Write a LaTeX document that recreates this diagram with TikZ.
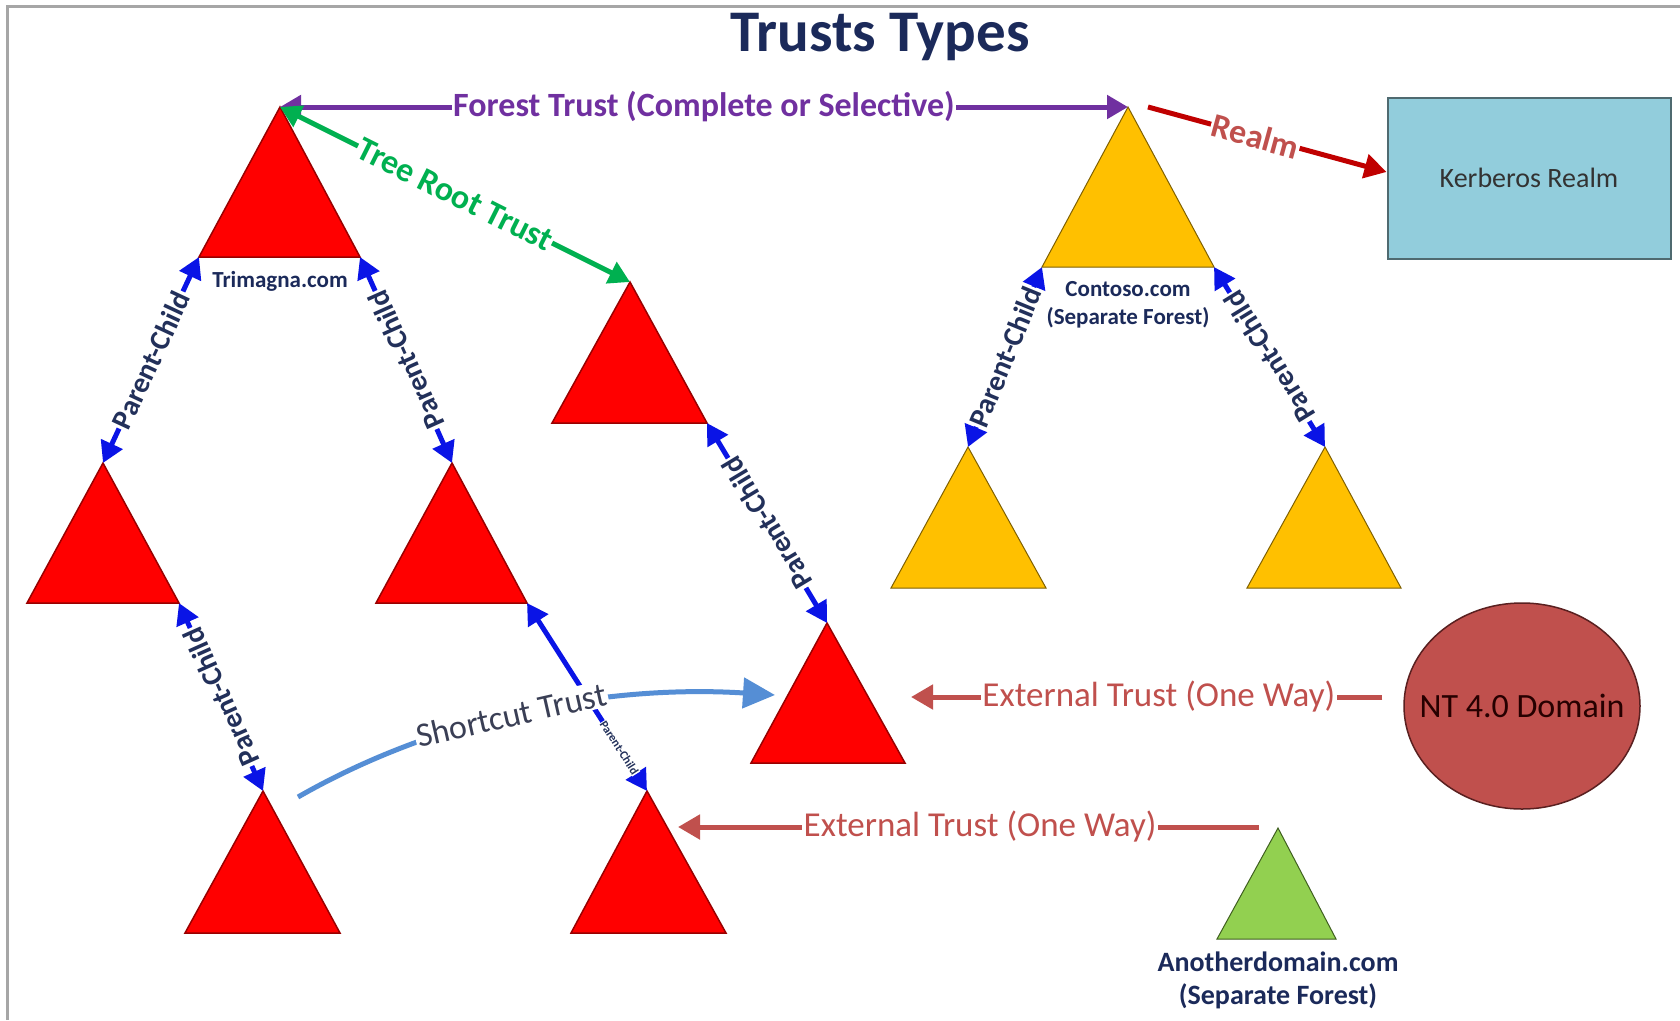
\documentclass[tikz,border=0pt]{standalone}
\usepackage{fontspec}
\setmainfont{Carlito}
\usetikzlibrary{arrows.meta,shapes.geometric,calc}
\definecolor{navy}{HTML}{1B2A5A}
\definecolor{labnavy}{HTML}{22305A}
\definecolor{fpurple}{HTML}{7030A0}
\definecolor{tgreen}{HTML}{00B050}
\definecolor{rdark}{HTML}{C00000}
\definecolor{rlabel}{HTML}{C0504D}
\definecolor{pblue}{HTML}{0A14E6}
\definecolor{tred}{HTML}{FF0000}
\definecolor{tredb}{HTML}{990000}
\definecolor{tyel}{HTML}{FFC000}
\definecolor{tyelb}{HTML}{7F6000}
\definecolor{tgrn}{HTML}{92D050}
\definecolor{tgrnb}{HTML}{3F5F1F}
\definecolor{kbox}{HTML}{92CDDC}
\definecolor{kborder}{HTML}{4F6A70}
\definecolor{scblue}{HTML}{558ED5}
\definecolor{scgray}{HTML}{3A3F55}
\definecolor{ntfill}{HTML}{C0504D}
\definecolor{ntborder}{HTML}{5A2020}
\newcommand\domtri[7]{%
  \coordinate (#1-apex) at (#2,#3);
  \coordinate (#1-bl) at (#4,#6);
  \coordinate (#1-br) at (#5,#6);
  \filldraw[#7] (#1-apex) -- (#1-br) -- (#1-bl) -- cycle;
}
\begin{document}
\begin{tikzpicture}[x=1pt,y=-1pt,
  redtri/.style={fill=tred,draw=tredb,line width=1.5pt,line join=miter},
  yeltri/.style={fill=tyel,draw=tyelb,line width=1pt},
  grntri/.style={fill=tgrn,draw=tgrnb,line width=1pt},
  lab/.style={fill=white,inner sep=1.5pt},
  twoway/.style={line width=5pt,arrows={Triangle[length=21pt,width=23pt]-Triangle[length=21pt,width=23pt]}},
  oneway/.style={line width=5pt,arrows={-Triangle[length=22pt,width=24pt]}},
  forest/.style={twoway,draw=fpurple},
  treeroot/.style={twoway,draw=tgreen},
  pc/.style={twoway,draw=pblue},
  realm/.style={oneway,draw=rdark},
  ext/.style={oneway,draw=rlabel},
  shortcut/.style={line width=5pt,draw=scblue,arrows={-Triangle[length=32pt,width=30pt]}},
  pclab/.style={lab,sloped,allow upside down,text=labnavy,font=\fontsize{29}{32}\selectfont\bfseries},
  pclabsmall/.style={lab,sloped,allow upside down,inner sep=0.5pt,text=labnavy,font=\fontsize{12}{14}\selectfont\bfseries},
  biglab/.style={lab,font=\fontsize{34}{38}\selectfont\bfseries},
  extlab/.style={lab,text=rlabel,font=\fontsize{35}{38}\selectfont},
  domlab/.style={text=navy,font=\fontsize{23}{28}\selectfont\bfseries,align=center,inner sep=0pt}
]
\useasboundingbox (0,0) rectangle (1680,1020);
\fill[white] (0,0) rectangle (1680,1020);
\draw[gray!70,line width=3pt] (7,1020) -- (7,6) -- (1680,6);

% title
\node[anchor=base,text=navy,font=\fontsize{59}{62}\selectfont\bfseries] (title) at (880,51) {Trusts Types};

% triangles
\domtri{T1}{280}{107}{199}{360}{257}{redtri}
\domtri{T2}{630}{282}{552}{707}{423}{redtri}
\domtri{T3}{103}{463}{27}{179}{603}{redtri}
\domtri{T4}{452}{463}{376}{527}{603}{redtri}
\domtri{T5}{263}{791}{185}{340}{933}{redtri}
\domtri{T6}{647}{791}{571}{726}{933}{redtri}
\domtri{T7}{827}{623}{751}{905}{763}{redtri}
\domtri{Y1}{1128}{107}{1042}{1214}{267}{yeltri}
\domtri{Y2}{968}{447}{891}{1046}{588}{yeltri}
\domtri{Y3}{1325}{447}{1247}{1401}{588}{yeltri}
\domtri{G}{1278}{828}{1217}{1336}{939}{grntri}

% domain labels
\node[domlab] (trimagna) at (280,281) {Trimagna.com};
\node[domlab] (contoso) at (1128,305) {Contoso.com\\(Separate Forest)};
\node[domlab,font=\fontsize{28}{33}\selectfont\bfseries] (another) at (1278,980) {Anotherdomain.com\\(Separate Forest)};

% other domains
\node[draw=kborder,fill=kbox,line width=2pt,minimum width=283pt,minimum height=161pt,inner sep=0pt,
  text=black!80,font=\fontsize{28}{32}\selectfont] (kerb) at (1529,178) {Kerberos Realm};
\node[ellipse,draw=ntborder,fill=ntfill,line width=1.5pt,minimum width=236pt,minimum height=206pt,inner sep=0pt] (nt) at (1522,706) {};
\node[text=black!85!red,font=\fontsize{34}{38}\selectfont] (ntlab) at (nt.center) {NT 4.0 Domain};

% forest trust
\draw[forest] (T1-apex) -- node[biglab,text=fpurple] (forestlab) {Forest Trust (Complete or Selective)} (Y1-apex);
% tree root trust
\draw[treeroot] (T1-apex) -- node[biglab,sloped,text=tgreen] (treelab) {Tree Root Trust} (T2-apex);
% realm trust
\draw[realm] ($(Y1-apex)+(20,0)$) -- node[biglab,sloped,pos=0.45,text=rlabel] (realmlab) {Realm} ($(kerb.west)+(0,-6)$);

% parent-child trusts
\draw[pc] (T3-apex) -- node[pclab] (pc1) {Parent-Child} (T1-bl);
\draw[pc] (T4-apex) -- node[pclab] (pc2) {Parent-Child} (T1-br);
\draw[pc] (T5-apex) -- node[pclab] (pc3) {Parent-Child} (T3-br);
\draw[pc] (T4-br) -- node[pclabsmall,pos=0.77] (pc4) {Parent-Child} (T6-apex);
\draw[pc] (T7-apex) -- node[pclab] (pc5) {Parent-Child} (T2-br);
\draw[pc] (Y2-apex) -- node[pclab] (pc6) {Parent-Child} (Y1-bl);
\draw[pc] (Y3-apex) -- node[pclab] (pc7) {Parent-Child} (Y1-br);

% shortcut trust
\draw[shortcut] ($(T5-apex)+(35,6)$) .. controls (450,710) and (620,685) .. ($(T7-apex)+(-52,72)$)
  node[lab,pos=0.45,sloped,text=scgray,font=\fontsize{34}{38}\selectfont] (sclab) {Shortcut Trust};

% external trusts
\draw[ext] ($(nt.west)+(-21,-9)$) -- node[extlab,pos=0.474] (ext1lab) {External Trust (One Way)} ($(T7-apex)+(84,74)$);
\draw[ext] ($(G-apex)+(-19,-1)$) -- node[extlab,pos=0.48] (ext2lab) {External Trust (One Way)} ($(T6-apex)+(31,36)$);
\end{tikzpicture}
\end{document}
